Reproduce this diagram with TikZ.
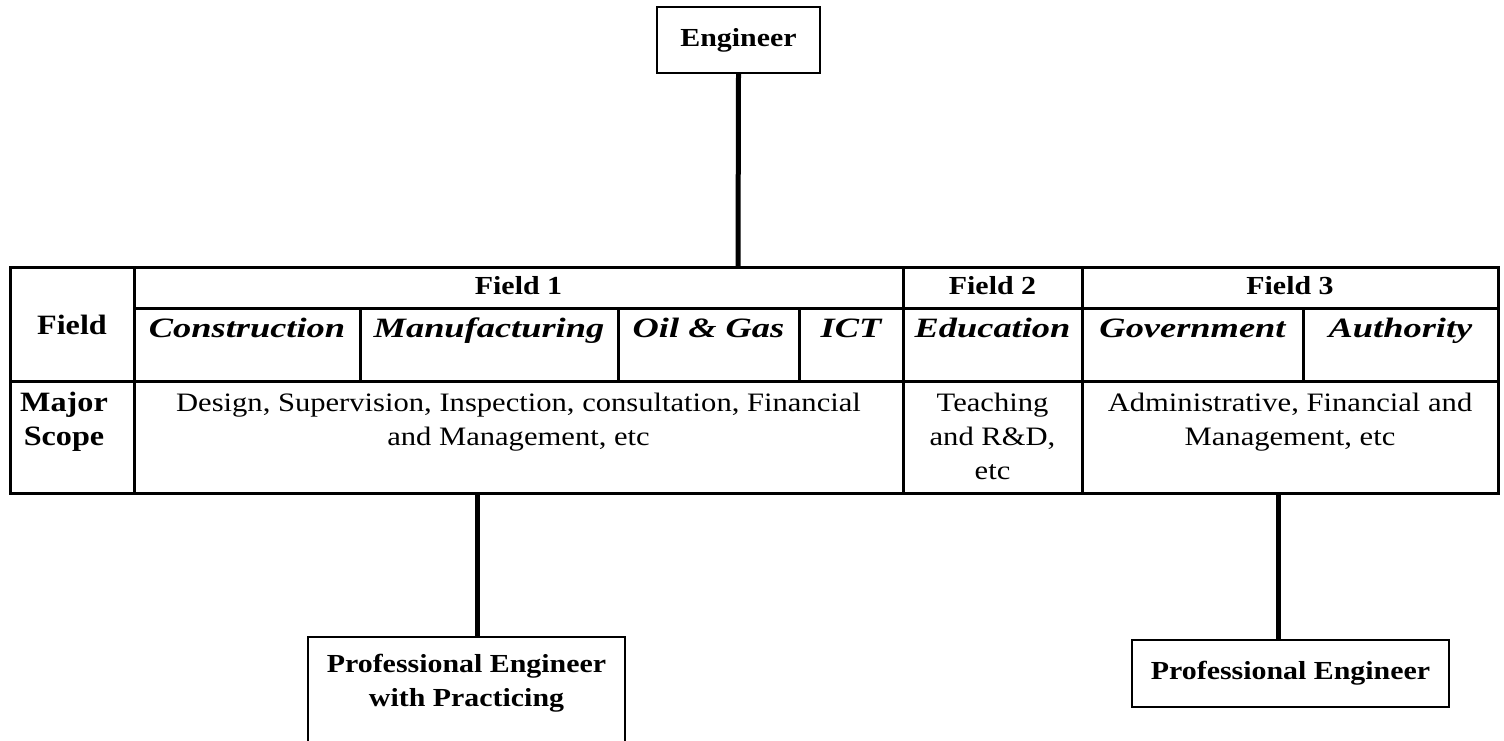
\documentclass[tikz,border=0pt]{standalone}
\usepackage{fontspec}
\setmainfont[FakeStretch=1.15]{Liberation Serif}
\newfontfamily\bifont[FakeStretch=1.3]{Liberation Serif}
\tikzset{
  rg/.style={anchor=base, inner sep=0pt, align=center, font=\fontsize{13.3}{17}\selectfont},
  hd/.style={anchor=base, inner sep=0pt, align=center, font=\fontsize{13}{17}\selectfont\bfseries},
  sub/.style={anchor=base, inner sep=0pt, font=\bifont\fontsize{14}{17}\selectfont\bfseries\itshape},
  grid/.style={line width=1.5pt, line cap=rect},
  conn/.style={line width=2.5pt},
  box/.style={draw, line width=1pt, inner sep=0pt, align=center, font=\fontsize{13}{17}\selectfont\bfseries}
}
\begin{document}
\begin{tikzpicture}[x=0.5pt,y=-0.5pt]
\useasboundingbox (0,0) rectangle (1504,740);
\clip (0,0) rectangle (1504,740);

% top box
\node[box, minimum width=81.5pt, minimum height=33pt] (eng) at (738.5,40) {Engineer};

% table grid
\draw[grid] (10,267) rectangle (1498,493);
\draw[grid] (134,308) -- (1498,308);
\draw[grid] (10,381) -- (1498,381);
\draw[grid] (134,267) -- (134,493);
\draw[grid] (903,267) -- (903,493);
\draw[grid] (1082,267) -- (1082,493);
\draw[grid] (360,308) -- (360,381);
\draw[grid] (618,308) -- (618,381);
\draw[grid] (799,308) -- (799,381);
\draw[grid] (1303,308) -- (1303,381);

% table texts (multi-line nodes: base = baseline of last line)
\node[hd, font=\fontsize{14}{17}\selectfont\bfseries] (fld) at (72,334) {Field};
\node[hd, font=\fontsize{14}{17}\selectfont\bfseries] (maj) at (64,445) {Major\\Scope};
\node[hd] (f1) at (518.5,294) {Field 1};
\node[hd] (f2) at (992.5,294) {Field 2};
\node[hd] (f3) at (1290,294) {Field 3};
\node[sub] (s1) at (247,337) {Construction};
\node[sub] (s2) at (489,337) {Manufacturing};
\node[sub] (s3) at (708.5,337) {Oil \& Gas};
\node[sub] (s4) at (851,337) {ICT};
\node[sub] (s5) at (992.5,337) {Education};
\node[sub] (s6) at (1192.5,337) {Government};
\node[sub] (s7) at (1400.5,337) {Authority};
\node[rg] (m1) at (518.5,445) {Design, Supervision, Inspection, consultation, Financial\\and Management, etc};
\node[rg] (m2) at (992.5,479) {Teaching\\and R\&D,\\etc};
\node[rg] (m3) at (1290,445) {Administrative, Financial and\\Management, etc};

% bottom boxes
\node[box, minimum width=158.5pt, minimum height=62pt, anchor=north] (pe1) at (466.5,636) {};
\node[hd] (pe1t) at (466.5,706) {Professional Engineer\\with Practicing};
\node[box, minimum width=158.5pt, minimum height=33.5pt] (pe2) at (1290.5,673.5) {Professional Engineer};

% connectors
\coordinate (ttop) at (738,267);
\coordinate (tb1) at (477,493);
\coordinate (tb2) at (1278,493);
\draw[conn] (eng.south) -- (ttop);
\draw[conn] (tb1) -- (tb1 |- pe1.north);
\draw[conn] (tb2) -- (tb2 |- pe2.north);
\end{tikzpicture}
\end{document}
